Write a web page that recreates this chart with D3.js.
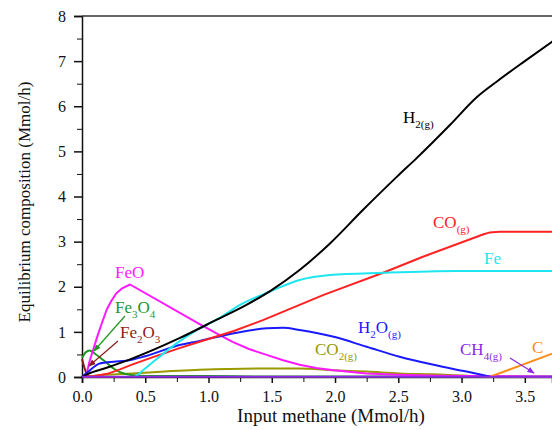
<!DOCTYPE html>
<html>
<head>
<meta charset="utf-8">
<script src="https://cdn.jsdelivr.net/npm/d3@7"></script>
<style>
  body { margin: 0; background: #fff; }
  svg { display: block; }
  svg text { font-family: "Times New Roman", "Liberation Serif", "DejaVu Serif", "Noto Serif", serif; }
  .axis path, .axis line { stroke: #111; }
  .axis text { font-size: 16px; fill: #111; }
</style>
</head>
<body>
<div id="chart"></div>
<script>
// series data: [input methane, composition]
const h2 = [[0,0],[0.04,0.06],[0.2,0.21],[0.37,0.38],[0.77,0.86],[1.065,1.27],[1.3,1.6],[1.49,1.91],[1.72,2.37],[1.96,2.96],[2.22,3.70],[2.49,4.44],[2.645,4.85],[2.91,5.59],[3.12,6.2],[3.28,6.55],[3.5,7.0],[3.72,7.44]];
const co = [[0,0],[0.1,0.02],[0.2,0.07],[0.3,0.17],[0.4,0.28],[0.55,0.43],[0.77,0.64],[0.93,0.78],[1.2,1.02],[1.43,1.26],[1.91,1.82],[2.38,2.31],[2.7,2.67],[3.18,3.17],[3.22,3.2],[3.3,3.22],[3.72,3.22]];
const fe = [[0.42,0],[0.6,0.42],[0.75,0.75],[0.9,1.03],[1.065,1.27],[1.25,1.6],[1.49,1.9],[1.72,2.15],[1.96,2.26],[2.38,2.31],[2.96,2.35],[3.72,2.35]];
const h2o = [[0,0],[0.05,0.12],[0.14,0.3],[0.25,0.34],[0.35,0.36],[0.5,0.46],[0.77,0.71],[0.93,0.8],[1.2,0.97],[1.46,1.08],[1.59,1.09],[1.72,1.04],[1.99,0.89],[2.25,0.67],[2.51,0.45],[2.78,0.27],[3.04,0.12],[3.22,0.01]];
const feo = [[0.03,0],[0.06,0.35],[0.09,0.62],[0.12,0.89],[0.16,1.22],[0.195,1.49],[0.23,1.68],[0.27,1.85],[0.32,1.97],[0.38,2.05],[0.93,1.17],[1.06,0.97],[1.19,0.78],[1.32,0.62],[1.46,0.49],[1.59,0.37],[1.72,0.27],[1.85,0.2],[1.99,0.15],[2.25,0.08],[2.5,0.05],[2.8,0.03],[3.05,0.02],[3.72,0.01]];
const fe3o4 = [[0,0.42],[0.03,0.55],[0.06,0.59],[0.1,0.52],[0.17,0.37],[0.27,0.15],[0.4,0.04],[0.6,0.02],[1.0,0.02],[1.5,0.01],[3.72,0.01]];
const fe2o3 = [[0,0.4],[0.02,0.2],[0.04,0.05],[0.06,0.0],[0.3,0]];
const co2 = [[0,0],[0.1,0.03],[0.4,0.08],[0.93,0.16],[1.46,0.19],[1.72,0.19],[1.99,0.15],[2.25,0.12],[2.51,0.08],[2.78,0.06],[3.04,0.03],[3.22,0.01],[3.72,0]];
const ch4 = [[0,0.005],[3.72,0.005]];
const carbon = [[3.22,0],[3.72,0.52]];

const xTicks = [0, 0.5, 1, 1.5, 2, 2.5, 3, 3.5];
const yTicks = [0, 1, 2, 3, 4, 5, 6, 7, 8];

const series = [
  {data: co2, color: "#999900", smooth: true},
  {data: fe2o3, color: "#8b1c1c", smooth: true},
  {data: fe3o4, color: "#1e961e", smooth: true},
  {data: feo, color: "#ff19ff", smooth: false},
  {data: h2o, color: "#1a1aff", smooth: true},
  {data: co, color: "#ff2222", smooth: false},
  {data: fe, color: "#1ee6f0", smooth: true},
  {data: h2, color: "#000000", smooth: true},
  {data: carbon, color: "#ff8c1a", smooth: false},
  {data: ch4, color: "#8c28e6", smooth: false}
];

const width = 552, height = 430;
const margin = {top: 16, right: 0, bottom: 53, left: 82};

const svg = d3.select("#chart").append("svg")
  .attr("width", width)
  .attr("height", height);

const x = d3.scaleLinear().domain([0, 3.715]).range([margin.left, width - margin.right]);
const y = d3.scaleLinear().domain([0, 8]).range([height - margin.bottom, margin.top]);

// minor ticks
svg.append("g")
  .attr("class", "axis")
  .attr("transform", `translate(${margin.left},0)`)
  .call(d3.axisLeft(y).tickValues(d3.range(0.5, 8, 1)).tickSize(5).tickFormat(""))
  .call(g => g.select(".domain").remove());
svg.append("g")
  .attr("class", "axis")
  .attr("transform", `translate(0,${height - margin.bottom})`)
  .call(d3.axisBottom(x).tickValues(d3.range(0.25, 3.7, 0.5)).tickSize(5).tickFormat(""))
  .call(g => g.select(".domain").remove());

// major ticks
svg.append("g")
  .attr("class", "axis")
  .attr("transform", `translate(${margin.left},0)`)
  .call(d3.axisLeft(y).tickValues(yTicks).tickSize(8).tickPadding(8).tickFormat(d3.format("d")))
  .call(g => g.selectAll("line, path").attr("stroke-width", 1.5));
svg.append("g")
  .attr("class", "axis")
  .attr("transform", `translate(0,${height - margin.bottom})`)
  .call(d3.axisBottom(x).tickValues(xTicks).tickSize(6).tickPadding(8).tickFormat(d3.format(".1f")))
  .call(g => g.selectAll("line, path").attr("stroke-width", 1.5));

// top frame line
svg.append("line")
  .attr("x1", margin.left).attr("x2", width)
  .attr("y1", margin.top).attr("y2", margin.top)
  .attr("stroke", "#333").attr("stroke-width", 1.5);

const smoothLine = d3.line()
  .x(d => x(d[0]))
  .y(d => y(d[1]))
  .curve(d3.curveMonotoneX);
const straightLine = d3.line()
  .x(d => x(d[0]))
  .y(d => y(d[1]));

svg.append("g")
  .selectAll("path")
  .data(series)
  .join("path")
  .attr("d", d => d.smooth ? smoothLine(d.data) : straightLine(d.data))
  .attr("fill", "none")
  .attr("stroke", d => d.color)
  .attr("stroke-width", 2)
  .attr("stroke-linejoin", "round");

// axis titles
svg.append("text")
  .attr("x", 331).attr("y", 422)
  .attr("text-anchor", "middle")
  .attr("font-size", 19)
  .attr("fill", "#111")
  .text("Input methane (Mmol/h)");

svg.append("text")
  .attr("transform", "translate(30,202) rotate(-90)")
  .attr("text-anchor", "middle")
  .attr("font-size", 17)
  .attr("fill", "#111")
  .text("Equilibrium composition (Mmol/h)");

// curve labels: parts of [text, subscript]
const labels = [
  {parts: [["H",""],["","2(g)"]], x: 403, y: 123, color: "#000"},
  {parts: [["CO",""],["","(g)"]], x: 433, y: 228, color: "#ff2222"},
  {parts: [["Fe",""]], x: 484, y: 264, color: "#1ee6f0"},
  {parts: [["FeO",""]], x: 115, y: 278, color: "#ff19ff"},
  {parts: [["Fe",""],["","3"],["O",""],["","4"]], x: 115, y: 313, color: "#1e961e"},
  {parts: [["Fe",""],["","2"],["O",""],["","3"]], x: 120, y: 338, color: "#8b1c1c"},
  {parts: [["H",""],["","2"],["O",""],["","(g)"]], x: 358, y: 333, color: "#1a1aff"},
  {parts: [["CO",""],["","2(g)"]], x: 315, y: 355, color: "#999900"},
  {parts: [["CH",""],["","4(g)"]], x: 460, y: 355, color: "#8c28e6"},
  {parts: [["C",""]], x: 532, y: 353, color: "#ff8c1a"}
];

labels.forEach(l => {
  const t = svg.append("text")
    .attr("x", l.x).attr("y", l.y)
    .attr("font-size", 17)
    .attr("fill", l.color);
  let shifted = false;
  l.parts.forEach(p => {
    if (p[0]) {
      t.append("tspan").attr("dy", shifted ? -5 : 0).text(p[0]);
      shifted = false;
    } else {
      t.append("tspan").attr("dy", shifted ? 0 : 5).attr("font-size", 11).text(p[1]);
      shifted = true;
    }
  });
});

// arrows
const arrows = [
  {from: [125, 316], to: [94, 351], color: "#1e961e"},
  {from: [118, 341], to: [89, 366], color: "#8b1c1c"},
  {from: [510, 358], to: [534, 373], color: "#8c28e6"}
];
const defs = svg.append("defs");
arrows.forEach((a, i) => {
  defs.append("marker")
    .attr("id", "arr" + i)
    .attr("viewBox", "0 0 10 10")
    .attr("refX", 9).attr("refY", 5)
    .attr("markerWidth", 6).attr("markerHeight", 6)
    .attr("orient", "auto")
    .append("path")
    .attr("d", "M0,1 L10,5 L0,9 Z")
    .attr("fill", a.color);
  svg.append("line")
    .attr("x1", a.from[0]).attr("y1", a.from[1])
    .attr("x2", a.to[0]).attr("y2", a.to[1])
    .attr("stroke", a.color).attr("stroke-width", 1.2)
    .attr("marker-end", `url(#arr${i})`);
});
</script>
</body>
</html>
